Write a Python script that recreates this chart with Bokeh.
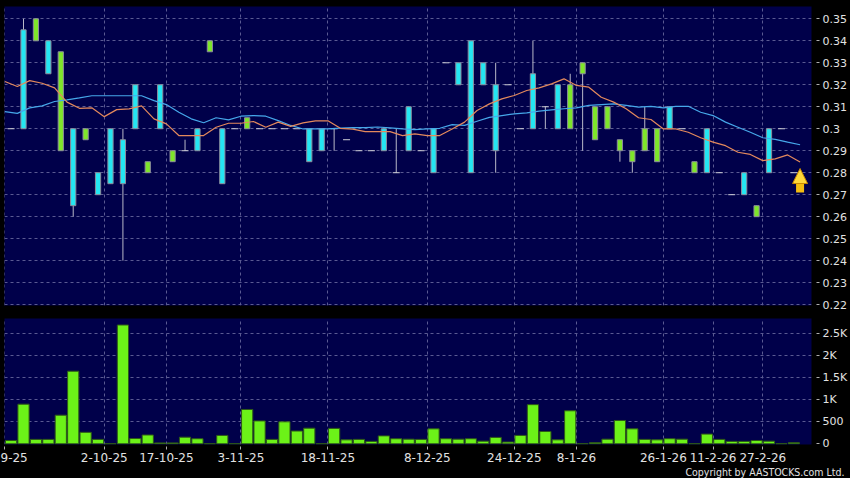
import numpy as np
from bokeh.plotting import figure
from bokeh.layouts import column
from bokeh.models import (Range1d, FixedTicker, Grid, Arrow, NormalHead, Title,
                          GlobalInlineStyleSheet)
from bokeh.embed import file_html
from bokeh.resources import INLINE

# ---------------- data ----------------
opens = [0.30, 0.30, 0.35, 0.325, 0.335, 0.265, 0.30, 0.27, 0.275, 0.275,
         0.30, 0.285, 0.30, 0.29, 0.29, 0.29, 0.34, 0.275, 0.30, 0.305,
         0.30, 0.30, 0.30, 0.30, 0.285, 0.29, 0.30, 0.295, 0.29, 0.29,
         0.29, 0.28, 0.29, 0.29, 0.28, 0.33, 0.32, 0.28, 0.32, 0.29,
         0.32, 0.30, 0.30, 0.31, 0.30, 0.32, 0.33, 0.31, 0.31, 0.295,
         0.29, 0.30, 0.30, 0.30, 0.30, 0.285, 0.28, 0.28, 0.27, 0.27,
         0.265, 0.28, 0.30, 0.28]
highs = [0.30, 0.35, 0.35, 0.34, 0.335, 0.30, 0.30, 0.28, 0.30, 0.30,
         0.32, 0.285, 0.32, 0.29, 0.295, 0.30, 0.34, 0.30, 0.30, 0.305,
         0.30, 0.30, 0.30, 0.30, 0.30, 0.30, 0.30, 0.295, 0.29, 0.29,
         0.30, 0.30, 0.31, 0.29, 0.30, 0.33, 0.33, 0.34, 0.33, 0.33,
         0.32, 0.30, 0.34, 0.31, 0.32, 0.325, 0.33, 0.31, 0.31, 0.295,
         0.29, 0.31, 0.30, 0.31, 0.30, 0.285, 0.30, 0.28, 0.27, 0.28,
         0.265, 0.30, 0.30, 0.28]
lows = [0.30, 0.30, 0.34, 0.325, 0.29, 0.26, 0.295, 0.27, 0.275, 0.24,
        0.30, 0.28, 0.30, 0.285, 0.29, 0.29, 0.335, 0.275, 0.30, 0.30,
        0.30, 0.30, 0.30, 0.30, 0.285, 0.29, 0.29, 0.295, 0.29, 0.29,
        0.29, 0.28, 0.29, 0.29, 0.28, 0.33, 0.32, 0.28, 0.32, 0.28,
        0.32, 0.30, 0.30, 0.30, 0.30, 0.30, 0.29, 0.295, 0.30, 0.285,
        0.28, 0.29, 0.285, 0.30, 0.30, 0.28, 0.28, 0.28, 0.27, 0.27,
        0.26, 0.28, 0.30, 0.28]
closes = [0.30, 0.345, 0.34, 0.34, 0.29, 0.30, 0.295, 0.28, 0.30, 0.295,
          0.32, 0.28, 0.32, 0.285, 0.29, 0.30, 0.335, 0.30, 0.30, 0.30,
          0.30, 0.30, 0.30, 0.30, 0.30, 0.30, 0.30, 0.295, 0.29, 0.29,
          0.30, 0.28, 0.31, 0.29, 0.30, 0.33, 0.33, 0.34, 0.33, 0.32,
          0.32, 0.30, 0.325, 0.31, 0.32, 0.30, 0.325, 0.295, 0.30, 0.29,
          0.285, 0.29, 0.285, 0.31, 0.30, 0.28, 0.30, 0.28, 0.27, 0.28,
          0.26, 0.30, 0.30, 0.28]
volumes = [75, 900, 100, 100, 650, 1650, 260, 100, 0, 2700,
           120, 200, 20, 20, 150, 115, 0, 190, 0, 780,
           520, 100, 500, 290, 355, 0, 350, 90, 100, 55,
           180, 115, 105, 100, 340, 115, 105, 115, 60, 145,
           40, 190, 890, 280, 90, 750, 0, 25, 105, 530,
           340, 100, 90, 115, 105, 0, 220, 100, 55, 55,
           75, 60, 0, 25]
# moving averages (one value more than the candles; drawn at slot edges)
ma_short = [0.3215, 0.3192, 0.3219, 0.3207, 0.3186, 0.3121, 0.3093, 0.3095, 0.3055, 0.3087,
            0.3090, 0.3104, 0.3045, 0.3022, 0.2969, 0.2969, 0.2969, 0.3007, 0.3025, 0.3025,
            0.3033, 0.3007, 0.3030, 0.3011, 0.3027, 0.3036, 0.3036, 0.3002, 0.2998, 0.2987,
            0.2987, 0.2987, 0.2969, 0.2977, 0.2969, 0.2969, 0.2999, 0.3030, 0.3083, 0.3113,
            0.3136, 0.3151, 0.3174, 0.3186, 0.3204, 0.3227, 0.3197, 0.3189, 0.3143, 0.3121,
            0.3091, 0.3050, 0.3042, 0.2999, 0.2999, 0.2984, 0.2959, 0.2939, 0.2923, 0.2893,
            0.2883, 0.2855, 0.2863, 0.2881, 0.2849]
ma_long = [0.3078, 0.3070, 0.3095, 0.3104, 0.3124, 0.3131, 0.3140, 0.3150, 0.3150, 0.3150,
           0.3150, 0.3150, 0.3128, 0.3110, 0.3075, 0.3045, 0.3027, 0.3050, 0.3040, 0.3057,
           0.3060, 0.3057, 0.3037, 0.3015, 0.2999, 0.2999, 0.2999, 0.3003, 0.3005, 0.3005,
           0.3008, 0.3004, 0.2999, 0.2996, 0.2999, 0.3002, 0.3019, 0.3015, 0.3034, 0.3052,
           0.3060, 0.3068, 0.3072, 0.3080, 0.3086, 0.3091, 0.3095, 0.3106, 0.3110, 0.3113,
           0.3106, 0.3098, 0.3102, 0.3095, 0.3102, 0.3102, 0.3075, 0.3060, 0.3030, 0.3007,
           0.2984, 0.2959, 0.2952, 0.2939, 0.2927]

date_slots = [0, 8, 13, 19, 26, 34, 41, 46, 53, 57, 61]
date_labels = ["9-25", "2-10-25", "17-10-25", "3-11-25", "18-11-25", "8-12-25",
               "24-12-25", "8-1-26", "26-1-26", "11-2-26", "27-2-26"]
price_ticks = [0.22, 0.23, 0.24, 0.25, 0.26, 0.27, 0.28, 0.29, 0.30, 0.31, 0.32, 0.33, 0.34, 0.35]
price_tick_labels = ["0.22", "0.23", "0.24", "0.25", "0.26", "0.27", "0.28", "0.29", "0.3",
                     "0.31", "0.32", "0.33", "0.34", "0.35"]
vol_ticks = [0, 500, 1000, 1500, 2000, 2500]
vol_tick_labels = ["0", "500", "1K", "1.5K", "2K", "2.5K"]
copyright_text = "Copyright by AASTOCKS.com Ltd."

# ---------------- styling ----------------
NAVY = "#00004a"
UP = "#24e6f2"
DOWN = "#7ee62a"
VOL = "#6cf218"
GRID = "#5a5a92"
TXT = "#e2e2e2"
FONT = "DejaVu Sans"

o = np.array(opens); c = np.array(closes); h = np.array(highs); l = np.array(lows)
n = len(o)
idx = np.arange(n)
up = c > o
down = c < o
flat = c == o
has_wick = h > l
ma_x = np.arange(-1, n) + 0.5
tick_pos = [s - 0.5 for s in date_slots]

xr = Range1d(-0.53, 64.42)

p1 = figure(width=850, height=312, x_range=xr, y_range=Range1d(0.2196, 0.3556),
            output_backend="svg", toolbar_location=None, x_axis_location=None,
            y_axis_location="right", min_border_left=4, min_border_right=37,
            min_border_top=6, min_border_bottom=7, background_fill_color=NAVY,
            border_fill_color="black", outline_line_color=None)
p2 = figure(width=850, height=166, x_range=xr, y_range=Range1d(-16, 2848),
            output_backend="svg", toolbar_location=None, y_axis_location="right",
            min_border_left=4, min_border_right=37, min_border_top=6, min_border_bottom=34,
            background_fill_color=NAVY, border_fill_color="black", outline_line_color=None)

for p in (p1, p2):
    ax = p.yaxis[0]
    ax.axis_line_color = None
    ax.major_tick_out = 8
    ax.major_tick_in = 0
    ax.major_tick_line_color = "#b0b0b0"
    ax.major_tick_line_dash = "3 5"
    ax.minor_tick_line_color = None
    ax.major_label_text_font = FONT
    ax.major_label_text_font_size = "11px"
    ax.major_label_text_color = TXT
    ax.major_label_standoff = 3
    p.ygrid.grid_line_color = GRID
    p.ygrid.grid_line_dash = "3 3"

p1.yaxis.ticker = FixedTicker(ticks=price_ticks, minor_ticks=[])
p1.yaxis.major_label_overrides = dict(zip(price_ticks, price_tick_labels))
p1.ygrid.ticker = FixedTicker(ticks=price_ticks, minor_ticks=[])
xgrids = [r for r in p1.center if isinstance(r, Grid) and r.dimension == 0]
if not xgrids:
    g = Grid(dimension=0)
    p1.add_layout(g)
    xgrids = [g]
for g in xgrids:
    g.ticker = FixedTicker(ticks=tick_pos, minor_ticks=[])
    g.grid_line_color = GRID
    g.grid_line_dash = "3 3"

p2.yaxis.ticker = FixedTicker(ticks=vol_ticks, minor_ticks=[])
p2.yaxis.major_label_overrides = dict(zip(vol_ticks, vol_tick_labels))
p2.ygrid.ticker = FixedTicker(ticks=vol_ticks[1:], minor_ticks=[])
xa = p2.xaxis[0]
xa.ticker = FixedTicker(ticks=tick_pos, minor_ticks=[])
xa.major_label_overrides = dict(zip(tick_pos, date_labels))
xa.axis_line_color = None
xa.major_tick_out = 5
xa.major_tick_in = 0
xa.major_tick_line_dash = "3 2"
xa.major_tick_line_color = "#b0b0b0"
xa.minor_tick_line_color = None
xa.major_label_text_font = FONT
xa.major_label_text_font_size = "12px"
xa.major_label_text_color = TXT
xa.major_label_standoff = 3
p2.xgrid.ticker = FixedTicker(ticks=tick_pos, minor_ticks=[])
p2.xgrid.grid_line_color = GRID
p2.xgrid.grid_line_dash = "3 3"

# ---------------- price candles ----------------
p1.segment(x0=idx[has_wick], y0=l[has_wick], x1=idx[has_wick], y1=h[has_wick],
           line_color="#b8b8c8", line_width=1)
p1.vbar(x=idx[up], top=c[up], bottom=o[up], width=0.42, fill_color=UP,
        line_color="#8c8c9c", line_width=1)
p1.vbar(x=idx[down], top=o[down], bottom=c[down], width=0.42, fill_color=DOWN,
        line_color="#8c8c9c", line_width=1)
p1.scatter(x=idx[flat], y=c[flat], marker="dash", size=7, line_color="#d0d0d8", line_width=1)

p1.line(ma_x, ma_long, line_color="#46a8ea", line_width=1.2)
p1.line(ma_x, ma_short, line_color="#e3895c", line_width=1.2)

# latest-price arrow below the last candle
arr_x = n - 1 + 0.5
tip = c[-1] + 0.0019
head_base = tip - 0.0054
shaft_bottom = c[-1] - 0.009
p1.segment(x0=[arr_x], y0=[shaft_bottom], x1=[arr_x], y1=[head_base + 0.0004],
           line_color="#f4bd10", line_width=8, line_cap="butt")
p1.add_layout(Arrow(end=NormalHead(size=15, fill_color="#ffd83a", line_color="#c98a00", line_width=1),
                    x_start=arr_x, y_start=head_base, x_end=arr_x, y_end=tip,
                    line_alpha=0, line_width=1))

# ---------------- volume ----------------
p2.vbar(x=idx, top=volumes, bottom=0, width=0.9, fill_color=VOL, line_color="#2f5a18",
        line_width=1)

# ---------------- copyright line under the date axis ----------------
p2.add_layout(Title(text=copyright_text, align="right", offset=-33, standoff=0,
                    text_font="'DejaVu Sans Condensed', 'DejaVu Sans'",
                    text_font_size="10.5px", text_font_style="normal",
                    text_color=TXT, vertical_align="middle"), "below")

layout = column(p1, p2, spacing=0,
                stylesheets=[GlobalInlineStyleSheet(
                    css="html, body { margin: 0; padding: 0; background: #000; overflow: hidden; }")])

open("out.html", "w").write(file_html(layout, INLINE))
